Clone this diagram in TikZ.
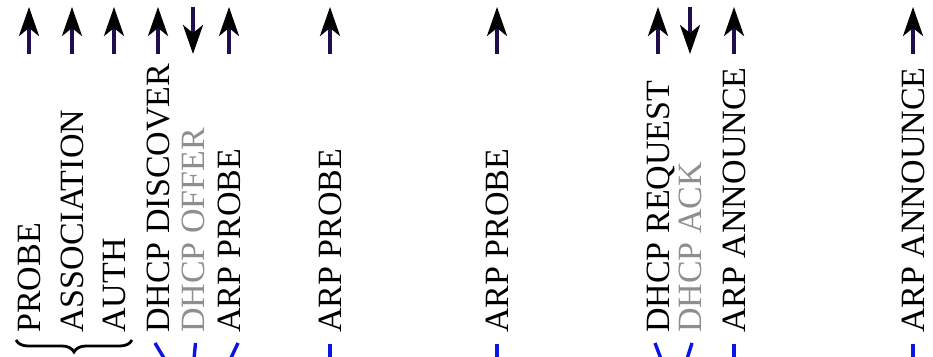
\documentclass[tikz,border=0pt]{standalone}
\usepackage{fontspec}
\setmainfont{Liberation Serif}
\usetikzlibrary{arrows.meta,decorations.pathreplacing}
\definecolor{shaft}{HTML}{1E0F4C}
\definecolor{msggray}{HTML}{8E8E8E}
\definecolor{linkblue}{HTML}{0A14E6}
\tikzset{
  lbl/.style={rotate=90, anchor=base west, inner sep=0pt, font=\fontsize{34}{40}\selectfont},
  graylbl/.style={lbl, text=msggray},
  msg/.style={draw=shaft, line width=3.6pt, -{Stealth[black,length=29pt,width=20pt,inset=8pt]}},
  blueseg/.style={draw=linkblue, line width=3.4pt},
  bracestyle/.style={draw=black, line width=2.8pt, decorate, decoration={brace, mirror, amplitude=12pt}}
}
\begin{document}
\begin{tikzpicture}[x=1pt,y=1pt]
\useasboundingbox (0,0) rectangle (933,356);
\clip (0,0) rectangle (933,356);
% columns
\foreach \n/\x in {c1/29, c2/72, c3/114, c4/158, c5/193, c6/229,
                   c7/330, c8/497, c9/658, c10/690, c11/734, c12/913}{
  \coordinate (\n lo) at (\x,302);
  \coordinate (\n hi) at (\x,349);
}
% labels
\node[lbl]     (t1)  at (40.3,23) {PROBE};
\node[lbl]     (t2)  at (83.3,23) {ASSOCIATION};
\node[lbl]     (t3)  at (125.3,23) {AUTH};
\node[lbl]     (t4)  at (169.3,23) {DHCP DISCOVER};
\node[graylbl] (t5)  at (204.3,23) {DHCP OFFER};
\node[lbl]     (t6)  at (240.3,23) {ARP PROBE};
\node[lbl]     (t7)  at (341.3,23) {ARP PROBE};
\node[lbl]     (t8)  at (508.3,23) {ARP PROBE};
\node[lbl]     (t9)  at (669.3,23) {DHCP REQUEST};
\node[graylbl] (t10) at (701.3,23) {DHCP ACK};
\node[lbl]     (t11) at (745.3,23) {ARP ANNOUNCE};
\node[lbl]     (t12) at (924.3,23) {ARP ANNOUNCE};
% arrows
\draw[msg] (c1lo) -- (c1hi);
\draw[msg] (c2lo) -- (c2hi);
\draw[msg] (c3lo) -- (c3hi);
\draw[msg] (c4lo) -- (c4hi);
\draw[msg] (c5hi) -- (c5lo);
\draw[msg] (c6lo) -- (c6hi);
\draw[msg] (c7lo) -- (c7hi);
\draw[msg] (c8lo) -- (c8hi);
\draw[msg] (c9lo) -- (c9hi);
\draw[msg] (c10hi) -- (c10lo);
\draw[msg] (c11lo) -- (c11hi);
\draw[msg] (c12lo) -- (c12hi);
% brace
\coordinate (bl) at (16,16);
\coordinate (br) at (132,16);
\draw[bracestyle] (bl) -- (br);
% blue links (cut at the bottom edge)
\coordinate (b1t) at (155,13);  \coordinate (b1b) at (164.5,-3);
\coordinate (b2t) at (195.5,13); \coordinate (b2b) at (194,-3);
\coordinate (b3t) at (238,13);  \coordinate (b3b) at (230.5,-3);
\coordinate (b4t) at (330,12);  \coordinate (b4b) at (330,-3);
\coordinate (b5t) at (497,12);  \coordinate (b5b) at (497,-3);
\coordinate (b6t) at (655,13);  \coordinate (b6b) at (661,-3);
\coordinate (b7t) at (692,13);  \coordinate (b7b) at (687,-3);
\coordinate (b8t) at (734,12);  \coordinate (b8b) at (734,-3);
\coordinate (b9t) at (913,12);  \coordinate (b9b) at (913,-3);
\foreach \i in {1,...,9}{ \draw[blueseg] (b\i t) -- (b\i b); }
\end{tikzpicture}
\end{document}
